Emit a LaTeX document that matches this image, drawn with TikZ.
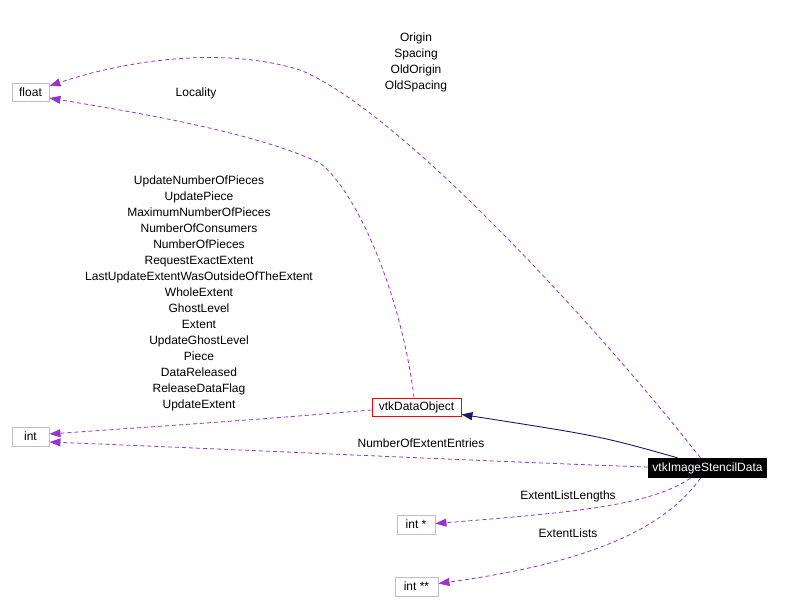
\documentclass[tikz,border=0pt]{standalone}
\usepackage{fontspec}
\setmainfont{Liberation Sans}
\usetikzlibrary{arrows.meta}
\definecolor{orchid}{RGB}{154, 50, 205}
\definecolor{midnight}{RGB}{25, 25, 112}
\definecolor{boxgrey}{RGB}{191, 191, 191}

\begin{document}
\begin{tikzpicture}[
    x=1pt, y=-1pt,
    font=\fontsize{12}{16}\selectfont,
    cls/.style={draw=boxgrey, line width=0.9pt, fill=white, inner sep=0pt, minimum height=18pt, align=center},
    focus/.style={fill=black, text=white, inner sep=0pt, minimum width=119pt, minimum height=20pt},
    base/.style={draw=red, line width=0.9pt, fill=white, inner sep=0pt, minimum width=89pt, minimum height=18pt},
    usage/.style={-{Triangle[length=11pt, width=8pt]}, color=orchid, line width=0.8pt, dash pattern=on 4pt off 3pt},
    inherit/.style={-{Triangle[length=11pt, width=8pt]}, color=midnight, line width=0.9pt},
    lbl/.style={align=center, inner sep=0pt}
]
    \useasboundingbox (0,0) rectangle (786,612);

    % Nodes
    \node [cls, minimum width=37pt] (float) at (30.5,92) {float};
    \node [cls, minimum width=37pt, minimum height=19pt] (int) at (30.5,436.5) {int};
    \node [base] (dobj) at (416.5,407) {vtkDataObject};
    \node [focus] (stencil) at (707.5,468) {vtkImageStencilData};
    \node [cls, minimum width=38pt, minimum height=19pt] (intp) at (416,524.5) {int *};
    \node [cls, minimum width=43pt, minimum height=19pt] (intpp) at (416.5,586.5) {int **};

    % Labels
    \node [lbl] (lorigin) at (416,62) {Origin\\Spacing\\OldOrigin\\OldSpacing};
    \node [lbl] (llocal) at (196,93) {Locality};
    \node [lbl] (lpieces) at (199,293) {UpdateNumberOfPieces\\UpdatePiece\\MaximumNumberOfPieces\\NumberOfConsumers\\NumberOfPieces\\RequestExactExtent\\LastUpdateExtentWasOutsideOfTheExtent\\WholeExtent\\GhostLevel\\Extent\\UpdateGhostLevel\\Piece\\DataReleased\\ReleaseDataFlag\\UpdateExtent};
    \node [lbl] (lentries) at (421,443) {NumberOfExtentEntries};
    \node [lbl] (llengths) at (568,496) {ExtentListLengths};
    \node [lbl] (llists) at (568,533) {ExtentLists};

    % Paths
    \draw [usage] ([xshift=-7pt]stencil.north) .. controls (600,330) and (400,110) .. (300,70)
        .. controls (220,45) and (120,62) .. ([yshift=6pt]float.east);
    \draw [usage] ([xshift=-2.5pt]dobj.north) .. controls (402,300) and (360,195) .. (320,163)
        .. controls (250,130) and (120,110) .. ([yshift=-6pt]float.east);
    \draw [usage] ([yshift=-3pt]dobj.west) .. controls (250,420) .. ([yshift=2.5pt]int.east);
    \draw [usage] ([yshift=1pt]stencil.west) .. controls (500,462) and (250,450) .. ([yshift=-5.5pt]int.east);
    \draw [inherit] ([xshift=-30pt]stencil.north) .. controls (600,436) .. ([yshift=2pt]dobj.south east);
    \draw [usage] ([xshift=-17pt]stencil.south) .. controls (650,505) and (580,512) .. ([yshift=1pt]intp.east);
    \draw [usage] ([xshift=-7pt]stencil.south) .. controls (670,520) and (610,560) .. ([yshift=3pt]intpp.east);
\end{tikzpicture}
\end{document}
